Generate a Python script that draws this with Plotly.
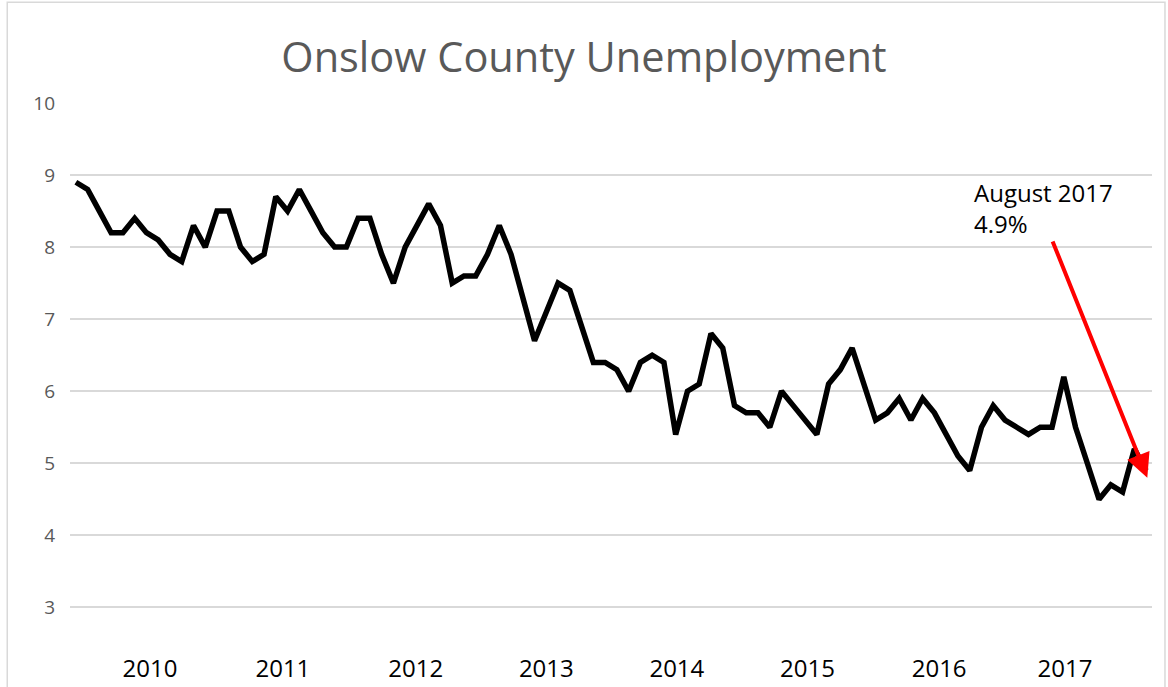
import plotly.graph_objects as go

# Monthly unemployment rate (%), Jan 2010 - Aug 2017
values = [
    8.9, 8.8, 8.5, 8.2, 8.2, 8.4, 8.2, 8.1, 7.9, 7.8, 8.3, 8.0,   # 2010
    8.5, 8.5, 8.0, 7.8, 7.9, 8.7, 8.5, 8.8, 8.5, 8.2, 8.0, 8.0,   # 2011
    8.4, 8.4, 7.9, 7.5, 8.0, 8.3, 8.6, 8.3, 7.5, 7.6, 7.6, 7.9,   # 2012
    8.3, 7.9, 7.3, 6.7, 7.1, 7.5, 7.4, 6.9, 6.4, 6.4, 6.3, 6.0,   # 2013
    6.4, 6.5, 6.4, 5.4, 6.0, 6.1, 6.8, 6.6, 5.8, 5.7, 5.7, 5.5,   # 2014
    6.0, 5.8, 5.6, 5.4, 6.1, 6.3, 6.6, 6.1, 5.6, 5.7, 5.9, 5.6,   # 2015
    5.9, 5.7, 5.4, 5.1, 4.9, 5.5, 5.8, 5.6, 5.5, 5.4, 5.5, 5.5,   # 2016
    6.2, 5.5, 5.0, 4.5, 4.7, 4.6, 5.2, 4.9,                       # 2017
]
month_index = list(range(len(values)))

year_labels = ["2010", "2011", "2012", "2013", "2014", "2015", "2016", "2017"]
year_label_pos = [6.3, 17.6, 28.9, 40.0, 51.1, 62.2, 73.4, 84.1]

y_ticks = [3, 4, 5, 6, 7, 8, 9, 10]

title_text = "Onslow County Unemployment"
note_text = "August 2017<br>4.9%"

FONT = "Open Sans"

fig = go.Figure()
fig.add_trace(go.Scatter(
    x=month_index, y=values, mode="lines",
    line=dict(color="#000000", width=5.5),
    showlegend=False,
))

# arrow pointing at the last value
fig.add_annotation(
    x=month_index[-1] + 0.1, y=values[-1] - 0.1,
    ax=83.0, ay=8.1, axref="x", ayref="y", xref="x", yref="y",
    text="", showarrow=True,
    arrowhead=2, arrowsize=1.2, arrowwidth=4, arrowcolor="#ff0000",
)
fig.add_annotation(
    x=76.2, y=9.02, xref="x", yref="y",
    text=note_text, showarrow=False,
    xanchor="left", yanchor="top", align="left",
    font=dict(family=FONT, size=24, color="#000000"),
)

# chart-area border
fig.add_shape(
    type="rect", xref="paper", yref="paper",
    x0=-0.058, x1=1.012, y0=-0.08, y1=1.185,
    line=dict(color="#d9d9d9", width=1.5), fillcolor="rgba(0,0,0,0)",
    layer="below",
)

fig.update_layout(
    width=1168, height=687,
    margin=dict(l=70, r=16, t=103, b=40),
    paper_bgcolor="#ffffff", plot_bgcolor="#ffffff",
    title=dict(
        text=title_text, x=0.5, xanchor="center", y=0.917, yanchor="middle",
        font=dict(family=FONT, size=41.5, color="#595959"),
    ),
    font=dict(family=FONT),
)
fig.update_xaxes(
    range=[-0.5, len(values) - 0.5],
    tickmode="array", tickvals=year_label_pos, ticktext=year_labels,
    showgrid=False, zeroline=False, showline=False, ticks="",
    automargin=False, ticklabelstandoff=5,
    tickfont=dict(family=FONT, size=24, color="#000000"),
)
fig.update_yaxes(
    range=[2.45, 10.0],
    tickmode="array", tickvals=y_ticks,
    showgrid=True, gridcolor="#d9d9d9", gridwidth=1.5,
    zeroline=False, showline=False, ticks="",
    automargin=False, ticklabelstandoff=14,
    tickfont=dict(family=FONT, size=19, color="#595959"),
)

fig.write_html(
    "out.html",
    config={"displayModeBar": False},
    post_script="document.body.style.margin='0';",
)
